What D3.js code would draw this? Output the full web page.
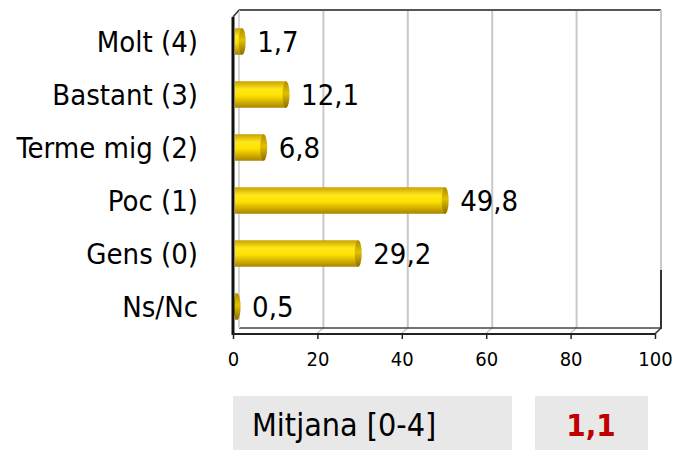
<!DOCTYPE html>
<meta charset="utf-8">
<script src="https://d3js.org/d3.v7.min.js"></script>
<style>
  body { margin: 0; background: #fff; }
  text { font-family: "DejaVu Sans Condensed", "DejaVu Sans", sans-serif; }
</style>
<div id="chart"></div>
<script>

// data
var categories = ["Molt (4)", "Bastant (3)", "Terme mig (2)", "Poc (1)", "Gens (0)", "Ns/Nc"];
var values = [1.7, 12.1, 6.8, 49.8, 29.2, 0.5];
var valueLabels = ["1,7", "12,1", "6,8", "49,8", "29,2", "0,5"];
var xTicks = [0, 20, 40, 60, 80, 100];
var meanLabel = "Mitjana [0-4]";
var meanValue = "1,1";

var W = 673, H = 450;
var plotLeft = 233, plotRight = 655, plotTop = 15, plotBottom = 333;
var depth = 6;

var svg = d3.select("#chart").append("svg")
  .attr("width", W)
  .attr("height", H);

var x = d3.scaleLinear().domain([0, 100]).range([plotLeft, plotRight]);
var y = d3.scaleBand().domain(categories).range([plotTop, plotBottom]).paddingInner(0.5).paddingOuter(0.25);

// gradient for the bars
var defs = svg.append("defs");
var grad = defs.append("linearGradient").attr("id", "gold").attr("x1", 0).attr("y1", 0).attr("x2", 0).attr("y2", 1);
grad.append("stop").attr("offset", "0%").attr("stop-color", "#c9a200");
grad.append("stop").attr("offset", "30%").attr("stop-color", "#ffe81a");
grad.append("stop").attr("offset", "55%").attr("stop-color", "#ffe000");
grad.append("stop").attr("offset", "100%").attr("stop-color", "#a88400");
var capGrad = defs.append("linearGradient").attr("id", "cap").attr("x1", 0).attr("y1", 0).attr("x2", 0).attr("y2", 1);
capGrad.append("stop").attr("offset", "0%").attr("stop-color", "#b08c00");
capGrad.append("stop").attr("offset", "45%").attr("stop-color", "#e0c000");
capGrad.append("stop").attr("offset", "100%").attr("stop-color", "#8c6c00");

// back wall gridlines
svg.append("g")
  .selectAll("line")
  .data(xTicks.slice(1))
  .enter().append("line")
    .attr("x1", function(d) { return x(d) + depth; })
    .attr("x2", function(d) { return x(d) + depth; })
    .attr("y1", plotTop - 5)
    .attr("y2", plotBottom - 5)
    .attr("stroke", "#c8c8c8")
    .attr("stroke-width", 2);

// floor diagonals of the grid
svg.append("g")
  .selectAll("line")
  .data(xTicks.slice(1))
  .enter().append("line")
    .attr("x1", function(d) { return x(d); })
    .attr("x2", function(d) { return x(d) + depth; })
    .attr("y1", plotBottom)
    .attr("y2", plotBottom - 5)
    .attr("stroke", "#c8c8c8")
    .attr("stroke-width", 1.5);

// top border of the back wall
svg.append("line")
  .attr("x1", plotLeft + depth).attr("x2", plotRight + depth)
  .attr("y1", plotTop - 5).attr("y2", plotTop - 5)
  .attr("stroke", "#555").attr("stroke-width", 2);

// right border
svg.append("line")
  .attr("x1", plotRight + depth).attr("x2", plotRight + depth)
  .attr("y1", plotTop - 5).attr("y2", 270)
  .attr("stroke", "#c8c8c8").attr("stroke-width", 2);
svg.append("line")
  .attr("x1", plotRight + depth).attr("x2", plotRight + depth)
  .attr("y1", 270).attr("y2", plotBottom - 4)
  .attr("stroke", "#333").attr("stroke-width", 2);

// floor back edge
svg.append("line")
  .attr("x1", plotLeft + depth).attr("x2", plotRight + depth)
  .attr("y1", plotBottom - 5).attr("y2", plotBottom - 5)
  .attr("stroke", "#444").attr("stroke-width", 1.5);

// left wall edge (light)
svg.append("line")
  .attr("x1", plotLeft + depth).attr("x2", plotLeft + depth)
  .attr("y1", plotTop - 5).attr("y2", plotBottom - 5)
  .attr("stroke", "#d8d8d8").attr("stroke-width", 2);

// bars
var bars = svg.append("g");
bars.selectAll("rect")
  .data(values)
  .enter().append("rect")
    .attr("x", plotLeft + 2)
    .attr("y", function(d, i) { return y(categories[i]); })
    .attr("width", function(d) { return Math.max(0, x(d) - plotLeft); })
    .attr("height", y.bandwidth())
    .attr("fill", "url(#gold)");

bars.selectAll("ellipse")
  .data(values)
  .enter().append("ellipse")
    .attr("cx", function(d) { return x(d) + 2; })
    .attr("cy", function(d, i) { return y(categories[i]) + y.bandwidth() / 2; })
    .attr("rx", 3.5)
    .attr("ry", y.bandwidth() / 2)
    .attr("fill", "url(#cap)");

// value labels
svg.append("g")
  .selectAll("text")
  .data(values)
  .enter().append("text")
    .attr("x", function(d) { return x(d) + 17; })
    .attr("y", function(d, i) { return y(categories[i]) + y.bandwidth() / 2; })
    .attr("dy", "0.36em")
    .attr("font-size", 29)
    .attr("fill", "#000")
    .text(function(d, i) { return valueLabels[i]; });

// left axis (dark, thick)
svg.append("line")
  .attr("x1", plotLeft).attr("x2", plotLeft)
  .attr("y1", plotTop + 2).attr("y2", plotBottom + 2)
  .attr("stroke", "#111").attr("stroke-width", 3);
svg.append("line")
  .attr("x1", plotLeft).attr("x2", plotLeft + depth)
  .attr("y1", plotTop + 2).attr("y2", plotTop - 5)
  .attr("stroke", "#333").attr("stroke-width", 1.5);

// front floor edge
svg.append("line")
  .attr("x1", plotLeft).attr("x2", plotRight)
  .attr("y1", plotBottom + 1).attr("y2", plotBottom + 1)
  .attr("stroke", "#222").attr("stroke-width", 2);
svg.append("line")
  .attr("x1", plotRight).attr("x2", plotRight + depth)
  .attr("y1", plotBottom + 1).attr("y2", plotBottom - 5)
  .attr("stroke", "#333").attr("stroke-width", 1.5);

// category labels
svg.append("g")
  .selectAll("text")
  .data(categories)
  .enter().append("text")
    .attr("x", 198)
    .attr("y", function(d) { return y(d) + y.bandwidth() / 2; })
    .attr("dy", "0.36em")
    .attr("text-anchor", "end")
    .attr("font-size", 29)
    .attr("fill", "#000")
    .text(function(d) { return d; });

// x axis
var xAxis = svg.append("g")
  .attr("transform", "translate(0," + (plotBottom + 1) + ")")
  .call(d3.axisBottom(x).tickValues(xTicks).tickSize(5).tickSizeOuter(0));
xAxis.select(".domain").remove();
xAxis.selectAll(".tick line").attr("stroke", "#222").attr("stroke-width", 1.5);
xAxis.selectAll(".tick text")
  .attr("font-family", "DejaVu Sans Condensed, DejaVu Sans, sans-serif")
  .attr("font-size", 20)
  .attr("fill", "#000")
  .attr("y", 18);

// mean boxes
svg.append("rect")
  .attr("x", 233).attr("y", 396).attr("width", 279).attr("height", 54)
  .attr("fill", "#e8e8e8");
svg.append("rect")
  .attr("x", 535).attr("y", 396).attr("width", 113).attr("height", 54)
  .attr("fill", "#e8e8e8");
svg.append("text")
  .attr("x", 252).attr("y", 436)
  .attr("font-size", 32)
  .attr("fill", "#000")
  .text(meanLabel);
svg.append("text")
  .attr("x", 591).attr("y", 436)
  .attr("text-anchor", "middle")
  .attr("font-size", 31)
  .attr("font-weight", "bold")
  .attr("fill", "#c00000")
  .text(meanValue);

</script>
